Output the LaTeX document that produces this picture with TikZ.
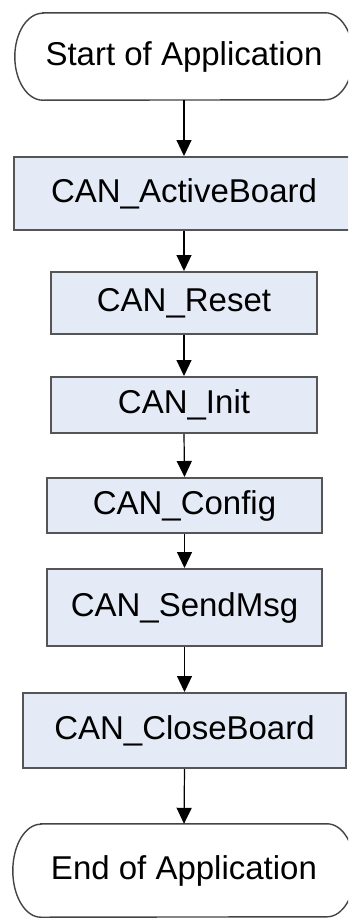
\documentclass[tikz,border=0pt]{standalone}
\usepackage{fontspec}
\setmainfont{Liberation Sans}
\usetikzlibrary{arrows.meta}
\definecolor{boxfill}{HTML}{E5EBF6}
\definecolor{boxline}{HTML}{555555}
\definecolor{termline}{HTML}{444444}
\tikzset{
  txt/.style={font=\fontsize{33}{38}\selectfont, text=black, inner sep=0pt},
  procbox/.style={txt, rectangle, draw=boxline, line width=2pt, fill=boxfill},
  termbox/.style={txt, rectangle, draw=none},
  termoutline/.style={draw=termline, line width=1.4pt},
  flow/.style={draw=black, line width=1.2pt, -{Triangle[width=15pt,length=16pt]}}
}
\begin{document}
\begin{tikzpicture}[x=1pt,y=-1pt]
\useasboundingbox (0,0) rectangle (348,918);
\clip (0,0) rectangle (348,918);
\fill[white] (0,0) rectangle (348,918);

\node[termbox, minimum width=338pt, minimum height=87pt] (start) at (184,56.5) {Start of Application};
\draw[termoutline] ([xshift=28pt]start.north west) -- ([xshift=-28pt]start.north east)
  arc[start angle=90, end angle=-90, x radius=28pt, y radius=43.5pt]
  -- ([xshift=28pt]start.south west)
  arc[start angle=270, end angle=90, x radius=28pt, y radius=43.5pt] -- cycle;

\node[procbox, minimum width=340pt, minimum height=73pt] (active) at (184,193.5) {CAN\_ActiveBoard};
\node[procbox, minimum width=266pt, minimum height=62pt] (reset) at (184,303) {CAN\_Reset};
\node[procbox, minimum width=266pt, minimum height=56pt] (init) at (184,405) {CAN\_Init};
\node[procbox, minimum width=275pt, minimum height=55pt] (config) at (184.5,505.5) {CAN\_Config};
\node[procbox, minimum width=275pt, minimum height=77pt] (send) at (184.5,607.5) {CAN\_SendMsg};
\node[procbox, minimum width=323pt, minimum height=75pt] (close) at (184.5,730.5) {CAN\_CloseBoard};

\node[termbox, minimum width=342pt, minimum height=93pt] (end) at (184,870.5) {End of Application};
\draw[termoutline] ([xshift=28pt]end.north west) -- ([xshift=-28pt]end.north east)
  arc[start angle=90, end angle=-90, x radius=28pt, y radius=46.5pt]
  -- ([xshift=28pt]end.south west)
  arc[start angle=270, end angle=90, x radius=28pt, y radius=46.5pt] -- cycle;

\draw[flow] (start.south) -- (active.north);
\draw[flow] (active.south) -- (reset.north);
\draw[flow] (reset.south) -- (init.north);
\draw[flow] (init.south) -- (config.north);
\draw[flow] (config.south) -- (send.north);
\draw[flow] (send.south) -- (close.north);
\draw[flow] (close.south) -- (end.north);
\end{tikzpicture}
\end{document}
